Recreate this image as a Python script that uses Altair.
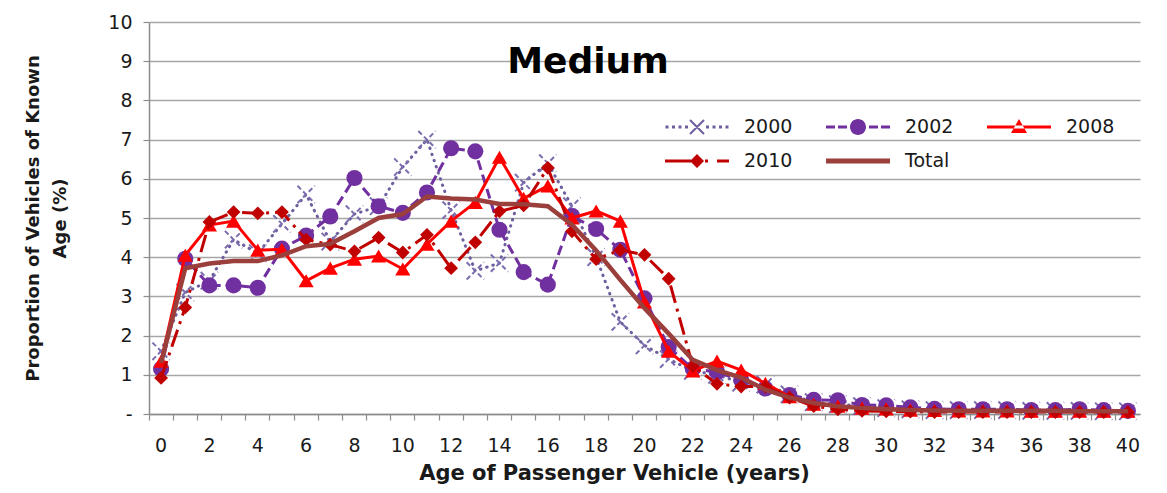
import altair as alt
import pandas as pd

# ---------------- data ----------------
ages = list(range(41))
series_names = ["2000", "2002", "2008", "2010", "Total"]
chart_title = ["Medium"]

s2000 = [1.6, 3.1, 3.4, 4.45, 4.1, 4.85, 5.6, 4.4, 5.1, 5.3,
         6.3, 7.0, 5.2, 3.65, 3.85, 5.9, 6.4, 5.3, 4.0, 2.35,
         1.75, 1.4, 1.1, 1.0, 0.8, 0.75, 0.5, 0.3, 0.25, 0.2,
         0.15, 0.12, 0.1, 0.1, 0.1, 0.1, 0.08, 0.08, 0.08, 0.07, 0.07]
s2002 = [1.15, 3.96, 3.28, 3.28, 3.22, 4.22, 4.55, 5.04, 6.02, 5.3,
         5.13, 5.65, 6.78, 6.7, 4.7, 3.62, 3.3, 5.05, 4.72, 4.19,
         2.95, 1.71, 1.15, 1.07, 0.86, 0.65, 0.48, 0.36, 0.35, 0.23,
         0.22, 0.17, 0.13, 0.12, 0.12, 0.12, 0.1, 0.1, 0.12, 0.1, 0.08]
s2008 = [1.35, 4.05, 4.82, 4.92, 4.18, 4.2, 3.4, 3.72, 3.95, 4.03,
         3.7, 4.33, 4.92, 5.4, 6.55, 5.5, 5.82, 5.0, 5.18, 4.92,
         2.86, 1.6, 1.1, 1.35, 1.12, 0.78, 0.44, 0.25, 0.2, 0.15,
         0.13, 0.1, 0.09, 0.08, 0.08, 0.08, 0.07, 0.07, 0.07, 0.07, 0.07]
s2010 = [0.92, 2.72, 4.9, 5.15, 5.12, 5.15, 4.45, 4.32, 4.15, 4.5,
         4.12, 4.57, 3.72, 4.38, 5.17, 5.32, 6.28, 4.66, 3.95, 4.18,
         4.06, 3.45, 1.22, 0.77, 0.7, 0.7, 0.42, 0.2, 0.12, 0.08,
         0.07, 0.06, 0.05, 0.05, 0.05, 0.05, 0.05, 0.05, 0.05, 0.05, 0.05]
total = [1.3, 3.72, 3.84, 3.9, 3.9, 4.05, 4.28, 4.34, 4.66, 5.0,
         5.1, 5.55, 5.5, 5.47, 5.36, 5.35, 5.3, 4.83, 4.17, 3.42,
         2.7, 2.05, 1.38, 1.12, 0.93, 0.62, 0.42, 0.28, 0.2, 0.15,
         0.12, 0.1, 0.09, 0.08, 0.08, 0.08, 0.08, 0.08, 0.07, 0.07, 0.07]

rows = []
for name, vals in zip(series_names, [s2000, s2002, s2008, s2010, total]):
    for a, v in zip(ages, vals):
        rows.append({"age": a, "pct": v, "series": name})
df = pd.DataFrame(rows)
title_df = pd.DataFrame({"t": chart_title})

# ---------------- styling ----------------
FONT = "DejaVu Sans"
TXT = "#1a1a1a"
C2000 = "#6E5E9E"
C2000X = "#7D6DAE"
C2002 = "#7030A0"
C2008 = "#FF0000"
C2010 = "#C00000"
CTOT = "#9A3F3B"

W, H = 991, 392

# legend symbol paths: symbolSize 1024 -> 1 unit = 16 px; the symbol is
# drawn 64 px wide, from the entry's left edge, marker in its middle.
U = 16.0
SHIFT = 16.0


def fx(v):
    return f"{(v + SHIFT) / U:.4f}"


def fy(v):
    return f"{v / U:.4f}"


def rect(x0, x1, hh):
    return (f"M{fx(x0)},{fy(-hh)}L{fx(x1)},{fy(-hh)}"
            f"L{fx(x1)},{fy(hh)}L{fx(x0)},{fy(hh)}Z")


def poly(pts):
    return "M" + "L".join(f"{fx(x)},{fy(y)}" for x, y in pts) + "Z"


def circ(r):
    return (f"M{fx(r)},0A{fy(r)},{fy(r)} 0 1 1 {fx(-r)},0"
            f"A{fy(r)},{fy(r)} 0 1 1 {fx(r)},0Z")


def diag(x0, y0, x1, y1, w):
    dx, dy = x1 - x0, y1 - y0
    ln = (dx * dx + dy * dy) ** 0.5
    nx, ny = -dy / ln * w / 2, dx / ln * w / 2
    return poly([(x0 + nx, y0 + ny), (x1 + nx, y1 + ny),
                 (x1 - nx, y1 - ny), (x0 - nx, y0 - ny)])


p_2000 = "".join(rect(c - 1.5, c + 1.5, 1.5) for c in [-30, -23.5, -17, -10.5, 10.5, 17, 23.5, 30]) \
    + diag(-7, -7, 7, 7, 2) + diag(-7, 7, 7, -7, 2)
p_2002 = rect(-32, -23, 1.5) + rect(-20, -11, 1.5) + circ(8) + rect(11, 20, 1.5) + rect(23, 32, 1.5)
p_2008 = rect(-32, 32, 1.5) + poly([(-8, 6), (8, 6), (0, -8)])
p_2010 = rect(-32, -6, 1.5) + poly([(-7, 0), (0, -7), (7, 0), (0, 7)]) + rect(8, 11, 1.5) + rect(20, 32, 1.5)
p_tot = rect(-32, 32, 2.5)
legend_paths = [p_2000, p_2002, p_2008, p_2010, p_tot]
legend_colors = [C2000, C2002, C2008, C2010, CTOT]

XPATH = "M-1,-1L1,1M-1,1L1,-1"

x_enc = alt.X(
    "age:O",
    scale=alt.Scale(type="band", paddingInner=0, paddingOuter=0),
    bandPosition=0.5,
    axis=alt.Axis(
        title="Age of Passenger Vehicle (years)",
        labelExpr="datum.value % 2 == 0 ? datum.label : ''",
        labelAngle=0, labelOverlap=False, bandPosition=0,
        tickSize=6, labelPadding=16, grid=False,
        labelFont=FONT, labelFontSize=19, labelColor=TXT,
        titleFont=FONT, titleFontSize=21, titleFontWeight="bold", titleColor=TXT,
        titleX=465, titleY=65, titleBaseline="alphabetic",
        domainColor="#8C8C8C", domainWidth=1.5, tickColor="#8C8C8C", tickWidth=1.2,
    ),
)
y_enc = alt.Y(
    "pct:Q",
    scale=alt.Scale(domain=[0, 10], nice=False),
    axis=alt.Axis(
        title=["Proportion  of Vehicles of Known", "Age (%)"],
        values=list(range(11)),
        labelExpr="datum.value == 0 ? '-' : datum.label",
        tickSize=6, labelPadding=11,
        labelFont=FONT, labelFontSize=19, labelColor=TXT,
        titleFont=FONT, titleFontSize=18, titleFontWeight="bold", titleColor=TXT,
        titleLineHeight=27, titlePadding=38,
        gridColor="#A6A6A6", gridWidth=1.5,
        domainColor="#8C8C8C", domainWidth=1.5, tickColor="#8C8C8C", tickWidth=1.2,
    ),
)


def sub(name):
    return alt.Chart(df).transform_filter(alt.datum.series == name).encode(x=x_enc, y=y_enc)


l2000 = sub("2000").mark_line(color=C2000, strokeWidth=3, strokeDash=[0.5, 6], strokeCap="round")
m2000 = sub("2000").mark_point(shape=XPATH, size=300, filled=False, color=C2000X,
                               strokeWidth=2, strokeDash=[5, 3], opacity=1)
l2002 = sub("2002").mark_line(color=C2002, strokeWidth=3, strokeDash=[10, 5])
m2002 = sub("2002").mark_point(shape="circle", size=260, filled=True, color=C2002, opacity=1)
l2008 = sub("2008").mark_line(color=C2008, strokeWidth=3)
m2008 = sub("2008").mark_point(shape="triangle-up", size=230, filled=True, color=C2008, opacity=1)
l2010 = sub("2010").mark_line(color=C2010, strokeWidth=3, strokeDash=[18, 6, 3, 6])
m2010 = sub("2010").mark_point(shape="diamond", size=190, filled=True, color=C2010, opacity=1)
ltot = sub("Total").mark_line(color=CTOT, strokeWidth=4.5)

leg = alt.Legend(
    orient="none", legendX=516, legendY=89, columns=3, direction="horizontal",
    columnPadding=33, rowPadding=8, padding=0,
    symbolSize=1024, symbolStrokeWidth=0, symbolOpacity=1,
    labelFont=FONT, labelFontSize=19, labelColor=TXT, labelOffset=47,
    title=None,
)
legend_layer = alt.Chart(df).transform_filter("false").mark_point(filled=True, opacity=1).encode(
    x=x_enc, y=y_enc,
    color=alt.Color("series:N", scale=alt.Scale(domain=series_names, range=legend_colors), legend=leg),
    shape=alt.Shape("series:N", scale=alt.Scale(domain=series_names, range=legend_paths), legend=leg),
)

# chart title drawn inside the plot area, as in the reference
title_layer = alt.Chart(title_df).mark_text(
    font=FONT, fontSize=36, fontWeight="bold", color="#000000",
    align="center", baseline="alphabetic",
).encode(text="t:N", x=alt.value(439), y=alt.value(51))

chart = alt.layer(
    l2000, m2000, l2002, m2002, l2008, m2008, l2010, m2010, ltot, legend_layer, title_layer
).properties(
    width=W, height=H,
    autosize=alt.AutoSizeParams(type="none"),
    padding={"left": 141, "top": 14, "right": 19, "bottom": 71},
).configure_view(stroke="transparent")

chart.save("out.html", embed_options={"renderer": "svg", "actions": False})
